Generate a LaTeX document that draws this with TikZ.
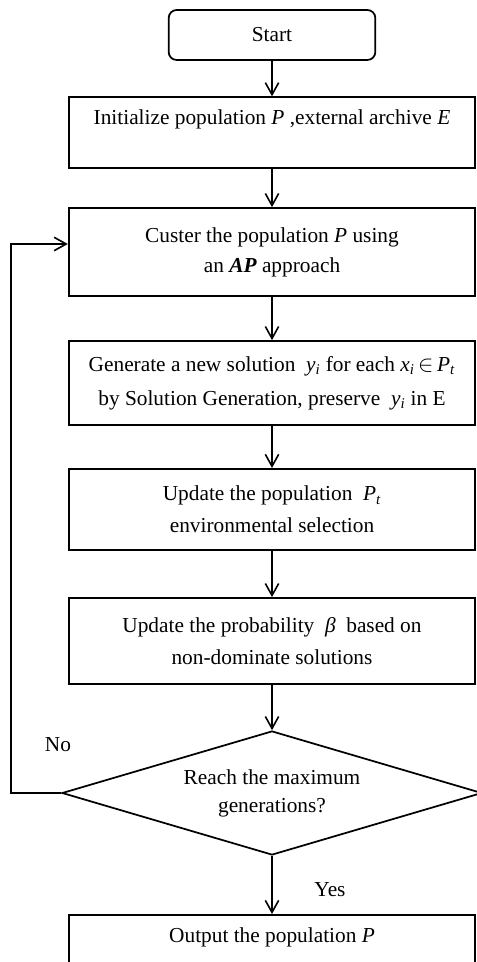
\documentclass[tikz,border=0pt]{standalone}
\usepackage{amsmath}
\usepackage{amssymb}
\usepackage{fontspec}
\setmainfont{Liberation Serif}
\usetikzlibrary{arrows.meta, shapes.geometric}
\newcommand{\sym}[1]{\textit{#1}}
\newcommand{\sub}[2]{\textit{#1}\textsubscript{\textit{#2}}}

\begin{document}
\begin{tikzpicture}[x=0.75pt, y=-0.75pt,
  box/.style={draw, line width=1.3pt, minimum width=305pt, align=center, inner sep=2pt, font=\fontsize{16}{22.5}\selectfont},
  lbl/.style={font=\fontsize{16}{17}\selectfont},
  flow/.style={-{Straight Barb[length=9pt,width=10pt,line width=1.2pt]}, line width=1.2pt}]
  \useasboundingbox (0,0) rectangle (477,962);
  \clip (0,0) rectangle (477,962);
  \node[box, rounded corners=6pt, minimum width=155pt, minimum height=37.5pt] (start) at (272,35) {Start};
  \node[box, minimum height=53pt] (init) at (272,132.5) {Initialize population \sym{P} ,external archive \sym{E}\\[-6pt] \strut};
  \node[box, minimum height=66pt] (cluster) at (272,252) {Custer the population \sym{P} using\\an \textbf{\textit{AP}} approach};
  \node[box, minimum height=63pt] (gen) at (272,383) {Generate a new solution \ \sub{y}{i} for each \sub{x}{i}\,$\in$\,\sub{P}{t}\\[3pt]by Solution Generation, preserve \ \sub{y}{i} in E};
  \node[box, minimum height=61pt] (uppop) at (272,509.5) {Update the population \ \sub{P}{t}\\[1.5pt]environmental selection};
  \node[box, minimum height=64.5pt] (upprob) at (272,641) {Update the probability \ \sym{β} \ based on\\[1.5pt]non-dominate solutions};
  \node[box, diamond, aspect=3.4, inner sep=0pt, minimum width=315pt, minimum height=93pt] (check) at (272,793) {Reach the maximum\\[-1.5pt]generations?};
  \node[box, minimum height=53pt, anchor=north] (out) at (272,914) {Output the population \sym{P}\\[-6pt] \strut};
  \node[lbl] (no) at (58,745) {No};
  \node[lbl] (yes) at (330,890) {Yes};
  \draw[flow] (start) -- (init);
  \draw[flow] (init) -- (cluster);
  \draw[flow] (cluster) -- (gen);
  \draw[flow] (gen) -- (uppop);
  \draw[flow] (uppop) -- (upprob);
  \draw[flow] (upprob) -- (check);
  \draw[flow] (check) -- (out);
  \draw[flow] (check.west) -- ++(-50,0) |- ([yshift=6pt]cluster.west);
\end{tikzpicture}
\end{document}
